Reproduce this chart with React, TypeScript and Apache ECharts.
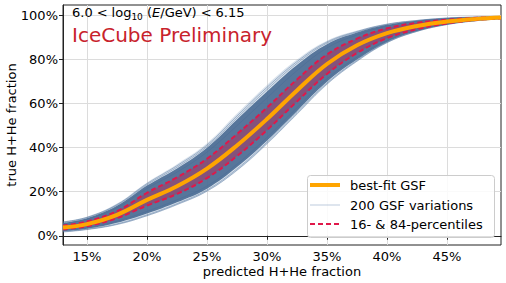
import React, { useEffect, useRef } from "react";
import * as echarts from "echarts";

// predicted H+He fraction (x)
const xs = [0.13, 0.15, 0.175, 0.2, 0.225, 0.25, 0.275, 0.3, 0.325, 0.35, 0.375, 0.4, 0.425, 0.45, 0.475, 0.495];
// true H+He fraction, best fit
const best = [0.037, 0.053, 0.095, 0.163, 0.225, 0.305, 0.41, 0.53, 0.66, 0.78, 0.865, 0.92, 0.953, 0.973, 0.985, 0.991];
const p84 = [0.046, 0.065, 0.112, 0.195, 0.265, 0.35, 0.462, 0.582, 0.71, 0.823, 0.895, 0.942, 0.967, 0.981, 0.99, 0.994];
const p16 = [0.029, 0.043, 0.08, 0.137, 0.19, 0.262, 0.362, 0.48, 0.61, 0.735, 0.83, 0.897, 0.938, 0.964, 0.98, 0.987];
const outerHi = [0.064, 0.086, 0.146, 0.242, 0.325, 0.42, 0.555, 0.685, 0.8, 0.886, 0.932, 0.963, 0.98, 0.99, 0.994, 0.997];
const outerLo = [0.016, 0.027, 0.05, 0.089, 0.139, 0.2, 0.294, 0.415, 0.55, 0.685, 0.79, 0.874, 0.926, 0.957, 0.976, 0.984];
const denseHi = [0.059, 0.08, 0.136, 0.228, 0.306, 0.4, 0.528, 0.655, 0.776, 0.87, 0.923, 0.958, 0.977, 0.988, 0.993, 0.996];
const denseLo = [0.021, 0.032, 0.059, 0.101, 0.152, 0.214, 0.312, 0.432, 0.566, 0.699, 0.8, 0.88, 0.93, 0.96, 0.977, 0.985];
// a few individual GSF variations
const variations = [
  [0.063, 0.084, 0.142, 0.237, 0.318, 0.412, 0.544, 0.674, 0.791, 0.88, 0.928, 0.961, 0.978, 0.989, 0.994, 0.996],
  [0.061, 0.082, 0.139, 0.232, 0.311, 0.405, 0.535, 0.664, 0.783, 0.875, 0.925, 0.959, 0.977, 0.988, 0.993, 0.996],
  [0.055, 0.075, 0.127, 0.215, 0.289, 0.38, 0.5, 0.626, 0.75, 0.853, 0.912, 0.952, 0.974, 0.986, 0.992, 0.995],
  [0.017, 0.028, 0.051, 0.091, 0.142, 0.203, 0.298, 0.419, 0.554, 0.689, 0.793, 0.877, 0.928, 0.959, 0.977, 0.985],
  [0.019, 0.03, 0.054, 0.095, 0.146, 0.208, 0.304, 0.425, 0.56, 0.694, 0.797, 0.879, 0.929, 0.96, 0.977, 0.985],
  [0.024, 0.036, 0.066, 0.111, 0.163, 0.226, 0.325, 0.447, 0.582, 0.713, 0.811, 0.887, 0.933, 0.962, 0.978, 0.986],
];
const xTicks = [0.15, 0.2, 0.25, 0.3, 0.35, 0.4, 0.45];
const yTicks = [0, 0.2, 0.4, 0.6, 0.8, 1.0];
const legendLabels = ["best-fit GSF", "200 GSF variations", "16- & 84-percentiles"];

const FONT = "DejaVu Sans";
// data stored as [y, x] so that the stacked dimension is y (encode swaps them)
const pairs = (ys: number[]) => xs.map((x, i) => [ys[i], x]);
const diff = (hi: number[], lo: number[]) => xs.map((x, i) => [hi[i] - lo[i], x]);

export default function App() {
  const ref = useRef<HTMLDivElement>(null);
  useEffect(() => {
    if (!ref.current) return;
    document.body.style.margin = "0";
    const chart = echarts.init(ref.current, undefined, { renderer: "svg" });
    const lineBase = { type: "line", smooth: 0.4, symbol: "none", silent: true, encode: { x: 1, y: 0 } } as any;
    const band = (stack: string, lo: number[], hi: number[], color: string, z: number) => [
      { ...lineBase, stack, data: pairs(lo), lineStyle: { width: 0, opacity: 0 }, z },
      { ...lineBase, stack, data: diff(hi, lo), lineStyle: { width: 0, opacity: 0 }, areaStyle: { color, opacity: 1 }, z },
    ];
    const series: any[] = [
      ...band("outer", outerLo, outerHi, "rgba(120,150,185,0.28)", 2),
      ...band("dense", denseLo, denseHi, "rgba(72,106,146,0.9)", 3),
      ...band("pct", p16, p84, "rgba(200,30,75,0.4)", 4),
      ...variations.map((v) => ({
        ...lineBase,
        data: pairs(v),
        lineStyle: { width: 0.7, color: "rgba(70,105,150,0.6)" },
        z: 5,
      })),
      { ...lineBase, data: pairs(p84), lineStyle: { width: 2, color: "#e0184a", type: [5, 3] }, z: 6 },
      { ...lineBase, data: pairs(p16), lineStyle: { width: 2, color: "#e0184a", type: [5, 3] }, z: 6 },
      { ...lineBase, data: pairs(best), lineStyle: { width: 4, color: "#ffa500" }, z: 7 },
    ];
    const pct = (v: number) => `${Math.round(v * 100)}%`;
    const legendY = [185, 205, 224];
    chart.setOption({
      animation: false,
      grid: {
        left: 63, right: 5, top: 5, bottom: 38,
        outerBoundsMode: "none", containLabel: false,
        show: true, borderColor: "#222", borderWidth: 1, backgroundColor: "transparent",
      },
      xAxis: {
        type: "value",
        min: 0.13,
        max: 0.495,
        name: "predicted H+He fraction",
        nameLocation: "middle",
        nameMoveOverlap: false,
        nameGap: 19,
        nameTextStyle: { fontFamily: FONT, fontSize: 13, color: "#000", lineHeight: 14 },
        axisLine: { show: true, lineStyle: { color: "#222", width: 1 } },
        axisTick: { show: true, length: 4, lineStyle: { color: "#222" }, customValues: xTicks },
        axisLabel: { customValues: xTicks, formatter: pct, fontFamily: FONT, fontSize: 13, color: "#000", margin: 5, lineHeight: 13 },
        splitLine: { show: true, lineStyle: { color: "#dcdcdc", width: 1 } },
      },
      yAxis: {
        type: "value",
        min: -0.042,
        max: 1.048,
        name: "true H+He fraction",
        nameLocation: "middle",
        nameMoveOverlap: false,
        nameGap: 45,
        nameTextStyle: { fontFamily: FONT, fontSize: 13, color: "#000" },
        axisLine: { show: true, lineStyle: { color: "#222", width: 1 } },
        axisTick: { show: true, length: 4, lineStyle: { color: "#222" }, customValues: yTicks },
        axisLabel: { customValues: yTicks, formatter: pct, fontFamily: FONT, fontSize: 13, color: "#000", margin: 5 },
        splitLine: { show: true, lineStyle: { color: "#dcdcdc", width: 1 } },
      },
      series,
      graphic: [
        {
          type: "text",
          left: 72,
          top: 6,
          z: 20,
          style: {
            text: "{a|6.0}{o|<}{a|log}{s|10}{a| (}{i|E}{a|/GeV)}{o|<}{a|6.15}",
            rich: {
              a: { fontFamily: FONT, fontSize: 13, fill: "#000", lineHeight: 18 },
              o: { fontFamily: FONT, fontSize: 13, fill: "#000", lineHeight: 18, padding: [0, 4, 0, 4] },
              i: { fontFamily: FONT, fontSize: 13, fill: "#000", lineHeight: 18, fontStyle: "italic" },
              s: { fontFamily: FONT, fontSize: 9, fill: "#000", lineHeight: 10, verticalAlign: "bottom" },
            },
          },
        },
        {
          type: "text",
          left: 72,
          top: 25,
          z: 20,
          style: { text: "IceCube Preliminary", fontFamily: FONT, fontSize: 20, fill: "#c8232c" },
        },
        {
          type: "rect",
          z: 20,
          shape: { x: 307.5, y: 175.5, width: 187, height: 62, r: 3 },
          style: { fill: "rgba(255,255,255,0.85)", stroke: "#cccccc", lineWidth: 1 },
        },
        { type: "line", z: 21, shape: { x1: 310, y1: legendY[0], x2: 340, y2: legendY[0] }, style: { stroke: "#ffa500", lineWidth: 4 } },
        { type: "line", z: 21, shape: { x1: 310, y1: legendY[1], x2: 340, y2: legendY[1] }, style: { stroke: "rgba(90,125,170,0.5)", lineWidth: 0.8 } },
        { type: "line", z: 21, shape: { x1: 310, y1: legendY[2], x2: 340, y2: legendY[2] }, style: { stroke: "#e0184a", lineWidth: 2, lineDash: [5, 3] } },
        ...legendLabels.map((t, i) => ({
          type: "text",
          z: 21,
          x: 350,
          y: legendY[i],
          style: { text: t, fontFamily: FONT, fontSize: 13, fill: "#000", verticalAlign: "middle" },
        })),
      ],
    });
    return () => chart.dispose();
  }, []);
  return <div ref={ref} style={{ width: 506, height: 283 }} />;
}
